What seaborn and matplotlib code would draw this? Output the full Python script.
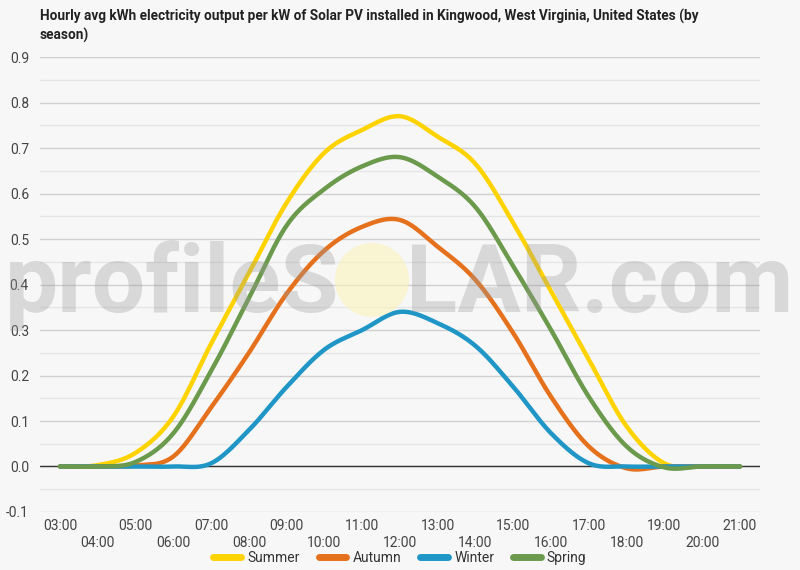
import numpy as np
import pandas as pd
import seaborn as sns
import matplotlib.pyplot as plt
from matplotlib.patches import Ellipse

hours = list(range(3, 22))
hour_labels = [f'{h:02d}:00' for h in hours]
seasons = ['Summer', 'Autumn', 'Winter', 'Spring']
colors = ['#FFD300', '#E5711D', '#1F96C6', '#6B9A4C']

summer = [0, 0.003, 0.03, 0.11, 0.27, 0.425, 0.58, 0.69, 0.74, 0.77, 0.725, 0.665, 0.535, 0.385, 0.235, 0.088, 0.007, 0, 0]
autumn = [0, 0, 0.002, 0.022, 0.13, 0.25, 0.38, 0.475, 0.527, 0.542, 0.483, 0.41, 0.293, 0.153, 0.044, -0.004, 0, 0, 0]
winter = [0, 0, 0, 0, 0.007, 0.08, 0.175, 0.257, 0.30, 0.34, 0.315, 0.265, 0.175, 0.073, 0.007, 0, 0, 0, 0]
spring = [0, 0, 0.01, 0.073, 0.21, 0.37, 0.53, 0.61, 0.66, 0.68, 0.637, 0.57, 0.44, 0.30, 0.153, 0.044, -0.002, 0, 0]

title = ('Hourly avg kWh electricity output per kW of Solar PV installed in Kingwood, '
         'West Virginia, United States (by\nseason)')


def smooth(x, y, n=24):
    # catmull-rom curve through the hourly points (chart uses smoothed lines)
    x = np.asarray(x, float)
    y = np.asarray(y, float)
    m = np.gradient(y, x)
    xs, ys = [], []
    for i in range(len(x) - 1):
        t = np.linspace(0, 1, n, endpoint=False)
        h = x[i + 1] - x[i]
        h00 = 2 * t**3 - 3 * t**2 + 1
        h10 = t**3 - 2 * t**2 + t
        h01 = -2 * t**3 + 3 * t**2
        h11 = t**3 - t**2
        xs.append(x[i] + t * h)
        ys.append(h00 * y[i] + h10 * h * m[i] + h01 * y[i + 1] + h11 * h * m[i + 1])
    xs.append([x[-1]])
    ys.append([y[-1]])
    return np.concatenate(xs), np.concatenate(ys)


frames = []
for name, vals in zip(seasons, [summer, autumn, winter, spring]):
    sx, sy = smooth(hours, vals)
    frames.append(pd.DataFrame({'hour': sx, 'kwh': sy, 'season': name}))
df = pd.concat(frames, ignore_index=True)

sns.set_theme(style='white')
plt.rcParams['font.family'] = ['Roboto', 'DejaVu Sans']
bg = '#f7f7f7'

fig = plt.figure(figsize=(8, 5.7), dpi=100, facecolor=bg)
ax = fig.add_axes([0.05, 0.1018, 0.9, 0.798], facecolor=bg)

ax.set_ylim(-0.1, 0.9)
ax.set_xlim(2.47, 21.53)
ax.set_yticks(np.arange(-0.1, 0.91, 0.1))
ax.set_yticks(np.arange(-0.05, 0.9, 0.1), minor=True)
ax.set_yticklabels([f'{v:.1f}' for v in np.arange(-0.1, 0.91, 0.1)])
ax.grid(axis='y', which='major', color='#cfcfcf', lw=1)
ax.grid(axis='y', which='minor', color='#e6e6e6', lw=1)
ax.grid(axis='x', visible=False)
ax.axhline(0, color='#333333', lw=1, zorder=1.5)
for s in ax.spines.values():
    s.set_visible(False)

sns.lineplot(data=df, x='hour', y='kwh', hue='season', hue_order=seasons,
             palette=colors, sort=False, estimator=None, lw=3.2, ax=ax, zorder=3)

ax.set_xticks(hours)
ax.set_xticklabels([lab if i % 2 == 0 else '\n' + lab for i, lab in enumerate(hour_labels)])
ax.tick_params(axis='both', length=0, labelsize=10, labelcolor='#444444')
ax.tick_params(axis='x', pad=5)
ax.tick_params(axis='y', pad=8)
for t in ax.get_xticklabels():
    t.set_linespacing(1.25)
ax.set_xlabel('')
ax.set_ylabel('')

handles, labels = ax.get_legend_handles_labels()
ax.get_legend().remove()
for h in handles:
    h.set_linewidth(5)
fig.legend(handles, labels, loc='center', bbox_to_anchor=(0.5, 0.021), ncol=4,
           frameon=False, fontsize=10, handlelength=2.0, handletextpad=0.45,
           columnspacing=1.35, labelcolor='#333333')

fig.text(0.05, 0.985, title, fontsize=9.8, fontweight='bold', color='#222222',
         va='top', ha='left', linespacing=1.35)

# watermark
fig.text(0.006, 0.4526, 'profileS', fontsize=68, fontweight='bold', color='#999999',
         alpha=0.33, ha='left', va='baseline', zorder=10)
fig.text(0.991, 0.4526, 'LAR.com', fontsize=68, fontweight='bold', color='#999999',
         alpha=0.33, ha='right', va='baseline', zorder=10)
fig.patches.append(Ellipse((372 / 800, 1 - 280 / 570), 74 / 800, 74 / 570,
                           transform=fig.transFigure, facecolor='#fbf3b8',
                           alpha=0.6, edgecolor='none', zorder=9))

fig.savefig('out.png', dpi=100, facecolor=bg)
